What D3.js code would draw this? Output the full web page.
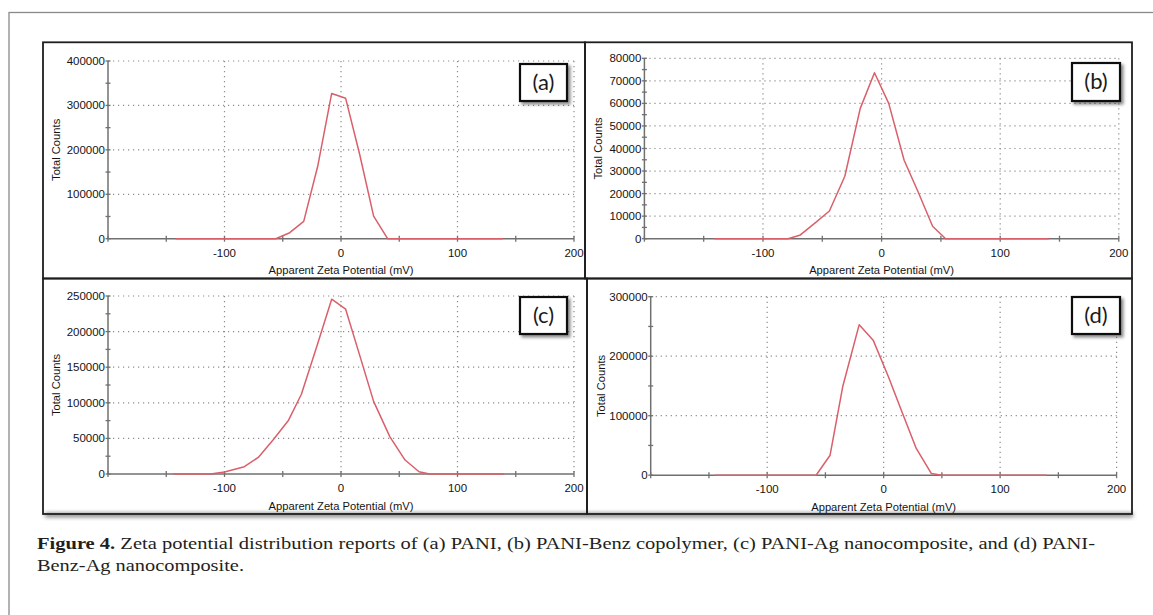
<!DOCTYPE html>
<html>
<head>
<meta charset="utf-8">
<script src="https://cdn.jsdelivr.net/npm/d3@7"></script>
<style>
  html, body { margin: 0; padding: 0; background: #fff; }
  svg { display: block; }
</style>
</head>
<body>
<div id="chart"></div>
<script>
// ---------------- DATA ----------------
const xTickValues = [-200, -150, -100, -50, 0, 50, 100, 150, 200];
const xTickLabels = [-100, 0, 100, 200];

const zetaA   = [-142, -56, -44, -32, -20, -8, 4, 16, 28, 40, 139];
const countsA = [0, 0, 13500, 39000, 163000, 327000, 316000, 190000, 51000, 0, 0];
const yTicksA = [0, 100000, 200000, 300000, 400000];

const zetaB   = [-141, -79, -69, -56, -44, -31, -18, -6, 6, 19, 31, 43, 54, 141];
const countsB = [0, 0, 1500, 7000, 12300, 27700, 57800, 73600, 60000, 34800, 20500, 5500, 0, 0];
const yTicksB = [0, 10000, 20000, 30000, 40000, 50000, 60000, 70000, 80000];

const zetaC   = [-144, -112, -100, -83, -71, -58, -45, -34, -21, -8, 4, 16, 28, 42, 55, 67, 76, 140];
const countsC = [0, 0, 2800, 10300, 23300, 48500, 75600, 112000, 178000, 245500, 231500, 167000, 102000, 52200, 19600, 3200, 0, 0];
const yTicksC = [0, 50000, 100000, 150000, 200000, 250000];

const zetaD   = [-145, -58, -46, -35, -21, -9, 4, 16, 28, 41, 50, 140];
const countsD = [0, 0, 33600, 150000, 253000, 227000, 166000, 105000, 45000, 2800, 0, 0];
const yTicksD = [0, 100000, 200000, 300000];

const panelLabels = ["(a)", "(b)", "(c)", "(d)"];
const xTitle = "Apparent Zeta Potential (mV)";
const yTitle = "Total Counts";
const captionBold = "Figure 4.";
const captionLine1 = " Zeta potential distribution reports of (a) PANI, (b) PANI-Benz copolymer, (c) PANI-Ag nanocomposite, and (d) PANI-";
const captionLine2 = "Benz-Ag nanocomposite.";

// ---------------- LAYOUT ----------------
const W = 1153, H = 615;
const panels = [
  { zeta: zetaA, counts: countsA, yTicks: yTicksA, minorStep: 50000, label: panelLabels[0],
    x0: 108, x1: 574, yTop: 61, yBot: 238.7, yTitleX: 60, labelBox: [520, 64, 47, 37] },
  { zeta: zetaB, counts: countsB, yTicks: yTicksB, minorStep: 5000, label: panelLabels[1],
    x0: 644.4, x1: 1118.8, yTop: 58.3, yBot: 238.7, yTitleX: 602, labelBox: [1072, 63, 48, 38] },
  { zeta: zetaC, counts: countsC, yTicks: yTicksC, minorStep: 25000, label: panelLabels[2],
    x0: 108, x1: 574, yTop: 296, yBot: 474, yTitleX: 60, labelBox: [520, 297, 47, 37] },
  { zeta: zetaD, counts: countsD, yTicks: yTicksD, minorStep: 50000, label: panelLabels[3],
    x0: 650.7, x1: 1116.6, yTop: 296.7, yBot: 475.2, yTitleX: 605, labelBox: [1072, 297, 48, 37] }
];

const svg = d3.select("#chart").append("svg")
  .attr("width", W).attr("height", H)
  .style("font-family", "'Liberation Sans', Arial, sans-serif");

const defs = svg.append("defs");
const f = defs.append("filter").attr("id", "shadow").attr("x", "-20%").attr("y", "-20%").attr("width", "150%").attr("height", "150%");
f.append("feDropShadow").attr("dx", 2.5).attr("dy", 2.5).attr("stdDeviation", 1.5).attr("flood-color", "#000").attr("flood-opacity", 0.45);
const f2 = defs.append("filter").attr("id", "blur").attr("x", "-10%").attr("y", "-100%").attr("width", "120%").attr("height", "300%");
f2.append("feGaussianBlur").attr("stdDeviation", 2);

svg.append("rect").attr("width", W).attr("height", H).attr("fill", "#fff");

// outer frame
svg.append("rect").attr("x", 9).attr("y", 12.5).attr("width", W + 20).attr("height", H + 20)
  .attr("fill", "none").attr("stroke", "#8a8a8a").attr("stroke-width", 1.3);

// shadow below bottom panels
svg.append("rect").attr("x", 45).attr("y", 513).attr("width", 1088).attr("height", 4)
  .attr("fill", "#777").attr("filter", "url(#blur)");

// panel boxes
const boxes = [[43, 42.3, 585, 278.5], [585, 42.3, 1132, 278.5], [43, 278.5, 587, 514], [587, 278.5, 1132, 514]];
svg.selectAll("rect.box").data(boxes).join("rect").attr("class", "box")
  .attr("x", d => d[0]).attr("y", d => d[1]).attr("width", d => d[2] - d[0]).attr("height", d => d[3] - d[1])
  .attr("fill", "none").attr("stroke", "#1e1e1e").attr("stroke-width", 1.8);

const gridColor = "#8c8c8c", axisColor = "#707070", textColor = "#141414";

panels.forEach(p => {
  const yMax = d3.max(p.yTicks);
  const x = d3.scaleLinear().domain([-200, 200]).range([p.x0, p.x1]);
  const y = d3.scaleLinear().domain([0, yMax]).range([p.yBot, p.yTop]);
  const g = svg.append("g");

  // gridlines (dotted)
  g.selectAll("line.hg").data(p.yTicks.filter(v => v > 0)).join("line")
    .attr("x1", p.x0).attr("x2", p.x1).attr("y1", d => y(d)).attr("y2", d => y(d))
    .attr("stroke", gridColor).attr("stroke-width", 1.2).attr("stroke-dasharray", "1.2,3.8");
  g.selectAll("line.vg").data(xTickLabels).join("line")
    .attr("x1", d => x(d)).attr("x2", d => x(d)).attr("y1", p.yTop).attr("y2", p.yBot)
    .attr("stroke", gridColor).attr("stroke-width", 1.2).attr("stroke-dasharray", "1.2,3.8");

  // x axis
  g.append("line").attr("x1", p.x0).attr("x2", p.x1).attr("y1", p.yBot).attr("y2", p.yBot)
    .attr("stroke", axisColor).attr("stroke-width", 1.5);
  g.selectAll("line.xt").data(xTickValues).join("line")
    .attr("x1", d => x(d)).attr("x2", d => x(d)).attr("y1", p.yBot - 3).attr("y2", p.yBot + 3)
    .attr("stroke", axisColor).attr("stroke-width", 1.3);
  g.selectAll("text.xl").data(xTickLabels).join("text")
    .attr("x", d => x(d)).attr("y", p.yBot + 18)
    .attr("text-anchor", "middle").attr("font-size", 11.5).attr("fill", textColor)
    .text(d => d);
  g.append("text").attr("x", x(0)).attr("y", p.yBot + 35.5)
    .attr("text-anchor", "middle").attr("font-size", 11.2).attr("fill", textColor).text(xTitle);

  // y axis
  g.append("line").attr("x1", p.x0).attr("x2", p.x0).attr("y1", p.yTop).attr("y2", p.yBot)
    .attr("stroke", axisColor).attr("stroke-width", 1.5);
  const minor = d3.range(0, yMax + 1, p.minorStep);
  g.selectAll("line.yt").data(minor).join("line")
    .attr("x1", p.x0 - 2.5).attr("x2", p.x0 + 2.5).attr("y1", d => y(d)).attr("y2", d => y(d))
    .attr("stroke", axisColor).attr("stroke-width", 1.3);
  g.selectAll("text.yl").data(p.yTicks).join("text")
    .attr("x", p.x0 - 3).attr("y", d => y(d) + 4)
    .attr("text-anchor", "end").attr("font-size", 11.5).attr("fill", textColor)
    .text(d => d);
  g.append("text")
    .attr("transform", `translate(${p.yTitleX},${(p.yTop + p.yBot) / 2}) rotate(-90)`)
    .attr("text-anchor", "middle").attr("font-size", 11.2).attr("fill", textColor).text(yTitle);

  // data line
  const line = d3.line().x((d, i) => x(p.zeta[i])).y(d => y(d));
  g.append("path").datum(p.counts).attr("d", line)
    .attr("fill", "none").attr("stroke", "#d9606a").attr("stroke-width", 1.5).attr("stroke-linejoin", "round");

  // label box
  const [bx, by, bw, bh] = p.labelBox;
  g.append("rect").attr("x", bx).attr("y", by).attr("width", bw).attr("height", bh)
    .attr("fill", "#fff").attr("stroke", "#111").attr("stroke-width", 2.2).attr("filter", "url(#shadow)");
  g.append("text").attr("x", bx + bw / 2).attr("y", by + bh / 2 + 7)
    .attr("text-anchor", "middle").attr("font-family", "Lato, 'Open Sans', sans-serif")
    .attr("font-size", 22).attr("fill", "#1a1a1a").text(p.label);
});

// caption
const cap = svg.append("g").attr("font-family", "'Liberation Serif', 'Times New Roman', serif")
  .attr("font-size", 17.5).attr("fill", "#231f20");
const t1 = cap.append("text").attr("x", 37).attr("y", 549)
  .attr("textLength", 1058).attr("lengthAdjust", "spacingAndGlyphs");
t1.append("tspan").attr("font-weight", "bold").text(captionBold);
t1.append("tspan").text(captionLine1);
cap.append("text").attr("x", 37).attr("y", 571)
  .attr("textLength", 207).attr("lengthAdjust", "spacingAndGlyphs").text(captionLine2);
</script>
</body>
</html>
